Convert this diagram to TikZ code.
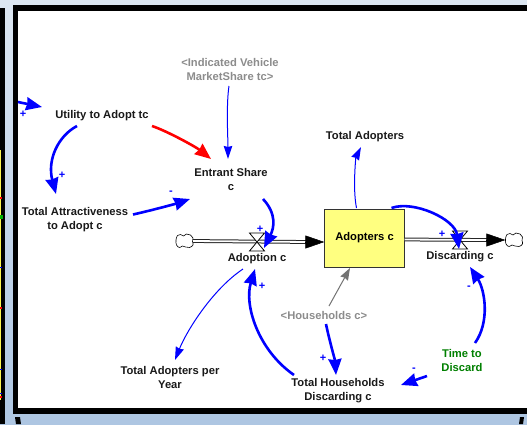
\documentclass[tikz,border=0pt]{standalone}
\usepackage{fontspec}
\setmainfont{Liberation Sans}
\usetikzlibrary{arrows.meta}
\definecolor{linkblue}{HTML}{0000FF}
\definecolor{shadowgray}{HTML}{8C8C8C}
\definecolor{stockyellow}{HTML}{FFFF80}
\definecolor{timegreen}{HTML}{008000}
\definecolor{bgtop}{HTML}{DCE6F1}
\definecolor{bgbottom}{HTML}{AEC6E2}
\tikzset{
  lbl/.style={font=\fontsize{11.2}{14}\selectfont\bfseries,align=center,inner sep=0pt,text=black!90},
  shadowlbl/.style={lbl,text=shadowgray},
  polarity/.style={font=\fontsize{11}{11}\selectfont\bfseries,text=linkblue,inner sep=0pt},
  thicklink/.style={draw=linkblue,line width=2.6pt,-{Stealth[inset=1pt,length=16pt,width=13pt]}},
  thinlink/.style={draw=linkblue,line width=1pt,-{Stealth[inset=1pt,length=13pt,width=8.5pt]}},
  redlink/.style={draw=red,line width=2.6pt,-{Stealth[inset=1pt,length=16pt,width=13pt]}},
  graylink/.style={draw=black!55,line width=1pt,-{Stealth[inset=1pt,length=12pt,width=8.5pt]}},
  flowline/.style={draw=black!85,line width=1pt,double=white,double distance=1.8pt},
  flowhead/.style={draw=black,line width=0.5pt,-{Triangle[length=19pt,width=13pt]}},
  valve/.style={draw=black,line width=0.8pt,fill=white},
  cloudnode/.style={inner sep=0pt,minimum width=17pt,minimum height=14pt},
  cloudpath/.style={draw=black,line width=0.6pt,fill=white},
  stockbox/.style={draw=black!80,line width=0.9pt,fill=stockyellow,minimum width=79.5pt,minimum height=58pt,inner sep=0pt,font=\fontsize{11.2}{14}\selectfont\bfseries}
}
\newcommand{\cloudshape}[1]{%
  \draw[cloudpath,shift={(#1)}] plot[smooth cycle,tension=0.7] coordinates {
    (-8.5,-1) (-7,-5.5) (-4,-6.5) (-1,-5) (2,-7) (6,-6) (8.5,-3) (8,0.5) (8.5,4) (5,6.5) (1,6) (-2,5) (-5,6.5) (-8,4)};
}
\begin{document}
\begin{tikzpicture}[x=1pt,y=-1pt]
\useasboundingbox (0,0) rectangle (527,424);
% window background
\shade[top color=bgtop,bottom color=bgbottom] (0,0) rectangle (527,424);
\fill[black] (0,8) rectangle (5,424);
\fill[yellow!70!white] (0,150) rectangle (1,400);
\fill[green!70!black] (0,215) rectangle (3,219);
\foreach \yy in {197,307,396}{\fill[red] (0,\yy) rectangle (1.5,\yy+1.5);}
\foreach \yy in {267,369,393}{\fill[blue] (0,\yy) rectangle (1.5,\yy+1);}
\fill[black] (15,417) -- (20,417) -- (21,424) -- (16,424) -- cycle;
\fill[black] (520,417) -- (524,417) -- (523,424) -- (519,424) -- cycle;
\fill[black] (13,5) rectangle (527,414);
\fill[white] (18,11) rectangle (527,408);
% nodes
\node[lbl] (util) at (102,116) {Utility to Adopt tc};
\node[shadowlbl] (ind) at (230,69) {<Indicated Vehicle\\MarketShare tc>};
\node[lbl] (ent) at (231,179) {Entrant Share\\c};
\node[lbl] (attr) at (75,219.5) {Total Attractiveness\\to Adopt c};
\node[lbl] (tadp) at (365,137) {Total Adopters};
\node[stockbox] (stock) at (364.5,238) {Adopters c};
\node[lbl] (adn) at (257,259) {Adoption c};
\node[lbl] (dis) at (460,257) {Discarding c};
\node[shadowlbl] (hh) at (324,315) {<Households c>};
\node[lbl] (thd) at (338,391) {Total Households\\Discarding c};
\node[lbl] (tapy) at (170,377) {Total Adopters per\\Year};
\node[lbl,text=timegreen] (ttd) at (462,360) {Time to\\Discard};
\node[cloudnode] (cloudL) at (184.5,241) {};
\node[cloudnode] (cloudR) at (514,240) {};
\coordinate (v1) at (257,242);
\coordinate (v2) at (460,240);
\coordinate (inL) at (18,102);
% flows
\cloudshape{cloudL}
\cloudshape{cloudR}
\draw[flowline] (cloudL.east) -- ([shift={(-16,4)}]stock.west);
\draw[flowhead] ([shift={(-19,4)}]stock.west) -- ([shift={(0,4)}]stock.west);
\draw[flowline] ([shift={(0,1.5)}]stock.east) -- ([shift={(-17,0)}]cloudR.west);
\draw[flowhead] ([shift={(-19,0)}]cloudR.west) -- (cloudR.west);
\draw[valve] ([shift={(-7.5,-9)}]v1) -- ([shift={(7.5,-9)}]v1) -- ([shift={(-7.5,9)}]v1) -- ([shift={(7.5,9)}]v1) -- cycle;
\draw[valve] ([shift={(-7.5,-9)}]v2) -- ([shift={(7.5,-9)}]v2) -- ([shift={(-7.5,9)}]v2) -- ([shift={(7.5,9)}]v2) -- cycle;
% links
\draw[thicklink] (inL) -- ([shift={(-60,-9)}]util.center);
\draw[thicklink] ([shift={(-25,10)}]util.center) .. controls +(-19,10) and +(-9,-34) .. ([shift={(-19,-25.5)}]attr.center);
\draw[redlink] ([shift={(50,10)}]util.center) .. controls +(15,5) and +(-15,-12) .. ([shift={(-20,-20)}]ent.center);
\draw[thinlink] ([shift={(-1,17)}]ind.center) .. controls +(-3,20) and +(0,-20) .. ([shift={(-3,-20)}]ent.center);
\draw[thicklink] ([shift={(58,-5)}]attr.center) .. controls +(18,-4) and +(-15,5) .. ([shift={(-41,20)}]ent.center);
\draw[thicklink] ([shift={(32,20)}]ent.center) .. controls +(14,15) and +(10,-20) .. ([shift={(7,6)}]v1);
\draw[thinlink] ([shift={(-8,-30)}]stock.center) .. controls +(-4,-20) and +(-5,10) .. ([shift={(-4,10)}]tadp.center);
\draw[thicklink] ([shift={(27,-30)}]stock.center) .. controls +(22,-8) and +(-4,-30) .. ([shift={(-1,9)}]v2);
\draw[graylink] ([shift={(5,-9)}]hh.center) -- ([shift={(-14.5,30)}]stock.center);
\draw[thicklink] ([shift={(2,9)}]hh.center) .. controls +(3,15) and +(-1,-15) .. ([shift={(-2,-16)}]thd.center);
\draw[thicklink] ([shift={(-44,-16)}]thd.center) .. controls +(-36,-25) and +(-11,36) .. ([shift={(-2,10)}]adn.center);
\draw[thinlink] ([shift={(-14,10)}]adn.center) .. controls +(-30,20) and +(12,-30) .. ([shift={(5,-17)}]tapy.center);
\draw[thicklink] ([shift={(13,-17)}]ttd.center) .. controls +(15,-21) and +(15,23) .. ([shift={(10,10)}]dis.center);
\draw[thicklink] ([shift={(-35,16)}]ttd.center) -- ([shift={(63,-6)}]thd.center);
% polarities
\node[polarity] (p1) at (23,114) {+};
\node[polarity] (p2) at (62,175) {+};
\node[polarity] (p3) at (171,193) {-};
\node[polarity] (p4) at (260,229) {+};
\node[polarity] (p5) at (442,234) {+};
\node[polarity] (p6) at (262,286) {+};
\node[polarity] (p7) at (323,358) {+};
\node[polarity] (p8) at (469,288) {-};
\node[polarity] (p9) at (414,370) {-};
\end{tikzpicture}
\end{document}
